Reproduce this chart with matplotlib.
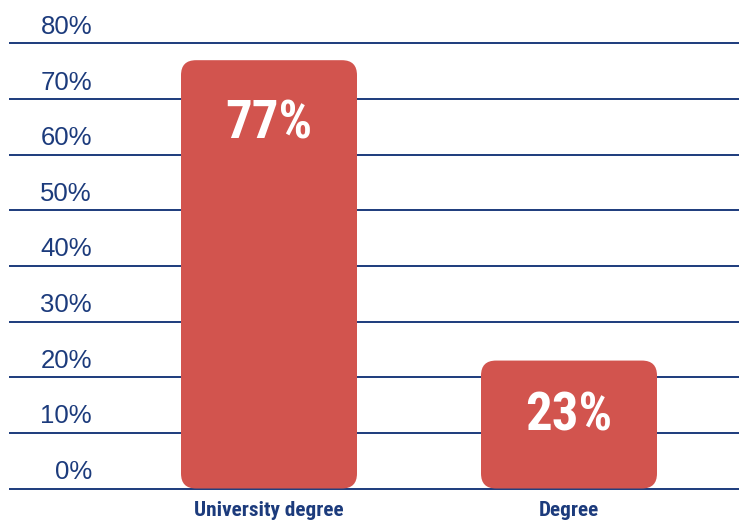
import matplotlib.pyplot as plt
from matplotlib.patches import FancyBboxPatch
from matplotlib.transforms import blended_transform_factory

categories = ['University degree', 'Degree']
shares = [77, 23]
y_ticks = [0, 10, 20, 30, 40, 50, 60, 70, 80]
y_tick_labels = ['%d%%' % t for t in y_ticks]

BAR_COLOR = '#D2544E'
NAVY = '#1C3B7C'
NARROW = ['Roboto Condensed', 'Barlow Condensed', 'DejaVu Sans']
PLAIN = ['Liberation Sans', 'Arimo', 'DejaVu Sans']

W, H, DPI = 739, 522, 100
fig = plt.figure(figsize=(W / DPI, H / DPI), dpi=DPI)
ax = fig.add_axes([0, 0, 1, 1])

# pixel layout: 0% line at y=488.5, 80% line at y=43.5, bars 300 px apart
px_per_unit = (488.5 - 43.5) / 80
ax.set_ylim(-(H - 488.5) / px_per_unit, 80 + 43.5 / px_per_unit)
ax.set_xlim(-269 / 300, (W - 269) / 300)
ax.axis('off')

x = list(range(len(categories)))
bars = ax.bar(x, shares, width=176 / 300, color='none')

# rounded bars built from the bar geometry
aspect = 300 / px_per_unit
for rect in bars:
    box = FancyBboxPatch((rect.get_x(), rect.get_y()), rect.get_width(), rect.get_height(),
                         boxstyle='round,pad=0,rounding_size=0.05',
                         mutation_aspect=aspect, facecolor=BAR_COLOR,
                         edgecolor='none', zorder=3)
    ax.add_patch(box)

# horizontal rules with labels sitting above each line
trans = blended_transform_factory(ax.transAxes, ax.transData)
ax.hlines(y_ticks, 9 / W, 1, transform=trans, color=NAVY, lw=1.4, zorder=1)
for t, lab in zip(y_ticks, y_tick_labels):
    ax.annotate(lab, (92 / W, t), xycoords=trans, xytext=(0, 19),
                textcoords='offset pixels', ha='right', va='center_baseline',
                fontsize=18.5, color=NAVY, family=PLAIN)

# value labels inside bars
label_drop = [-58, -50]
for xi, v, d in zip(x, shares, label_drop):
    ax.annotate('%d%%' % v, (xi, v), xytext=(0, d), textcoords='offset pixels',
                ha='center', va='center_baseline', fontsize=38, fontweight='bold',
                color='white', family=NARROW, zorder=4)

# category names under the baseline
for xi, name in zip(x, categories):
    ax.annotate(name, (xi, 0), xytext=(0, -13), textcoords='offset pixels',
                ha='center', va='top', fontsize=15.3, fontweight='bold',
                color=NAVY, family=NARROW)

fig.savefig('out.png', dpi=DPI)
